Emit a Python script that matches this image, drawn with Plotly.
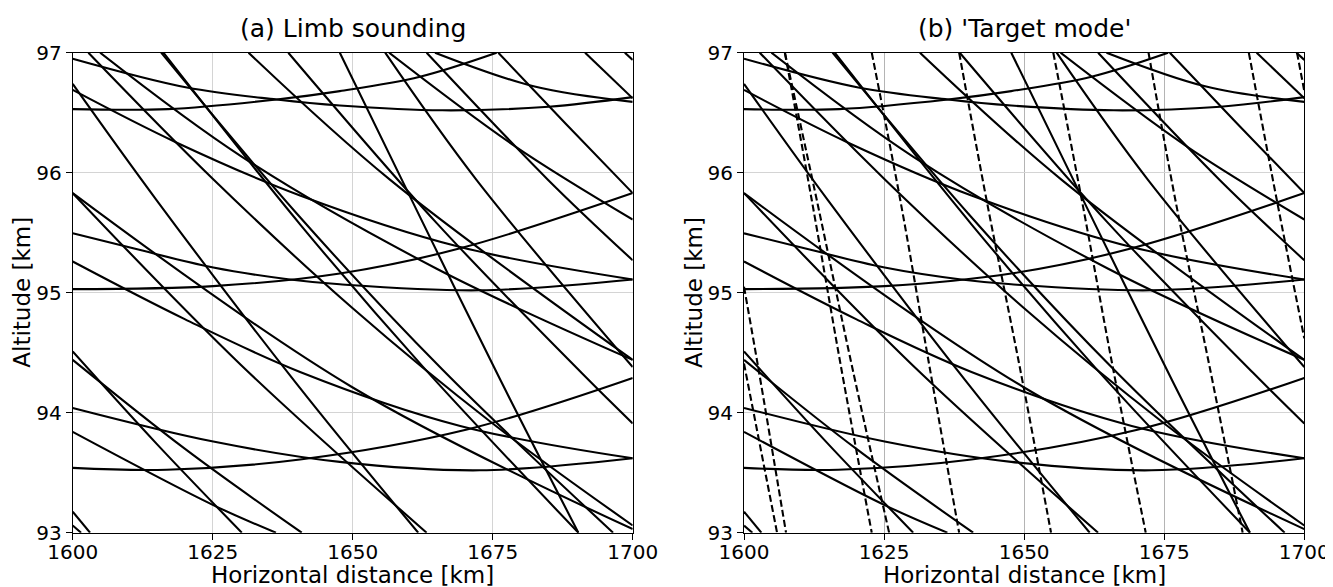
import plotly.graph_objects as go

# ---------------- data: (horizontal distance km, altitude km) ----------------
x_ticks = [1600, 1625, 1650, 1675, 1700]
y_ticks = [93, 94, 95, 96, 97]

# nearly horizontal lines of sight (tangent point inside / near the window)
curve_a1 = [(1600, 96.95), (1620.4, 96.71), (1636.4, 96.61), (1647.7, 96.56), (1666, 96.52), (1685, 96.55), (1700, 96.63)]
curve_b1 = [(1600, 96.53), (1617, 96.53), (1636.4, 96.61), (1647.7, 96.68), (1662, 96.80), (1675.7, 97.0)]
curve_d1 = [(1664.7, 97.0), (1682.3, 96.72), (1700, 96.59)]
curve_a2 = [(1600, 95.495), (1610.8, 95.37), (1625.1, 95.21), (1638.8, 95.11), (1647.7, 95.07), (1672.7, 95.02), (1700, 95.11)]
curve_b2 = [(1600, 95.03), (1625.1, 95.055), (1647.7, 95.16), (1669.2, 95.37), (1700, 95.83)]
curve_d2 = [(1600, 96.69), (1618.6, 96.25), (1640.6, 95.81), (1669.2, 95.38), (1700, 95.11)]
curve_a3 = [(1600, 94.04), (1625.1, 93.76), (1647.7, 93.59), (1672.7, 93.52), (1700, 93.62)]
curve_b3 = [(1600, 93.54), (1616.8, 93.525), (1640.6, 93.61), (1670.4, 93.86), (1700, 94.29)]
curve_d3 = [(1600, 95.26), (1620, 94.78), (1640.6, 94.34), (1669.2, 93.89), (1700, 93.62)]
curve_d4 = [(1600, 93.84), (1625.1, 93.23), (1636.3, 93.0)]

# steeper lines of sight
line_01 = [(1600, 93.175), (1603.1, 93.0)]
line_02 = [(1600, 93.06), (1601.5, 93.0)]
line_03 = [(1600, 94.51), (1615, 93.74), (1630.2, 93.0)]
line_04 = [(1600, 94.44), (1620, 93.70), (1640.9, 93.0)]
line_05 = [(1600, 96.74), (1615, 95.77), (1640, 94.24), (1661.7, 93.0)]
line_06 = [(1600, 95.83), (1630, 94.40), (1663.2, 93.0)]
line_07 = [(1600, 95.83), (1650, 94.21), (1700, 93.03)]
line_08 = [(1602.8, 97.0), (1625, 95.95), (1650, 94.87), (1675, 93.91), (1700, 93.06)]
line_09 = [(1604.9, 97.0), (1630.3, 96.13), (1665, 95.20), (1700, 94.44)]
line_10 = [(1616.2, 97.0), (1640.6, 95.57), (1662.6, 94.38), (1690.3, 93.0)]
line_11 = [(1615.8, 97.0), (1640, 95.66), (1666.1, 94.355), (1696.5, 93.0)]
line_12 = [(1631.4, 97.0), (1656.7, 95.94), (1700, 94.44)]
line_13 = [(1638.5, 97.0), (1665, 95.58), (1690.9, 94.33), (1700, 93.91)]
line_14 = [(1647.7, 97.0), (1661.4, 95.69), (1676.4, 94.27), (1690.3, 93.0)]
line_15 = [(1655.8, 97.0), (1672.1, 95.94), (1700, 94.38)]
line_16 = [(1656.5, 97.0), (1679, 96.22), (1700, 95.61)]
line_17 = [(1663.2, 97.0), (1684.9, 95.94), (1700, 95.27)]
line_18 = [(1676.0, 97.0), (1688, 96.41), (1700, 95.83)]
line_19 = [(1691.5, 97.0), (1700, 96.62)]
line_20 = [(1698.6, 97.0), (1700, 96.94)]

# 'target mode' lines (dashed, right panel only)
dash_01 = [(1607.3, 97.0), (1612.1, 95.77), (1617.4, 94.36), (1622.8, 93.0)]
dash_02 = [(1607.3, 97.0), (1613.0, 95.77), (1619.4, 94.36), (1625.9, 93.0)]
dash_03 = [(1622.8, 97.0), (1627.9, 95.77), (1633.2, 94.36), (1638.4, 93.0)]
dash_04 = [(1638.4, 97.0), (1643.3, 95.77), (1649.3, 94.36), (1654.8, 93.0)]
dash_05 = [(1655.2, 97.0), (1660.3, 95.77), (1665.9, 94.36), (1671.7, 93.0)]
dash_06 = [(1672.2, 97.0), (1677.0, 95.77), (1683.2, 94.36), (1689.0, 93.0)]
dash_07 = [(1690.1, 97.0), (1695.1, 95.77), (1700, 94.62)]
dash_08 = [(1698.7, 97.0), (1700, 96.68)]
dash_09 = [(1600, 95.05), (1602.6, 94.36), (1607.5, 93.0)]
dash_10 = [(1600, 94.41), (1605.9, 93.0)]

solid_lines = [curve_a1, curve_b1, curve_d1, curve_a2, curve_b2, curve_d2,
               curve_a3, curve_b3, curve_d3, curve_d4,
               line_01, line_02, line_03, line_04, line_05, line_06, line_07,
               line_08, line_09, line_10, line_11, line_12, line_13, line_14,
               line_15, line_16, line_17, line_18, line_19, line_20]
dashed_lines = [dash_01, dash_02, dash_03, dash_04, dash_05, dash_06, dash_07,
                dash_08, dash_09, dash_10]

# ---------------- figure ----------------
OFF = 8                      # the page body margin that shifts the plot inside the window
W, H = 1333 - OFF, 587 - OFF
FONT = "DejaVu Sans"
fig = go.Figure()

def add(pts, xa, ya, dash=None):
    fig.add_trace(go.Scatter(
        x=[p[0] for p in pts], y=[p[1] for p in pts], mode="lines",
        xaxis=xa, yaxis=ya, hoverinfo="skip",
        line=dict(color="black", width=2.1, shape="spline", smoothing=1.0,
                  dash=dash if dash else "solid")))

for pts in solid_lines:
    add(pts, "x", "y")
    add(pts, "x2", "y2")
for pts in dashed_lines:
    add(pts, "x2", "y2", dash="7px,3.3px")

# panel edges in window pixels
left = (72.7, 632.7)
right = (744.0, 1304.3)
top, bottom = 52.7, 532.7

def fx(px):
    return (px - OFF) / W

def fy(py):
    return 1 - (py - OFF) / H

ydom = [fy(bottom), fy(top)]

axis_common = dict(
    showgrid=True, gridwidth=1,
    showline=True, linecolor="black", linewidth=1, mirror=True,
    ticks="outside", ticklen=6, tickwidth=1, tickcolor="black",
    tickfont=dict(family=FONT, size=20, color="black"),
    zeroline=False, fixedrange=True, automargin=False,
)

fig.update_layout(
    width=W, height=H,
    margin=dict(l=0, r=0, t=0, b=0, pad=0, autoexpand=False),
    paper_bgcolor="white", plot_bgcolor="white",
    showlegend=False,
    font=dict(family=FONT, color="black"),
    xaxis=dict(domain=[fx(left[0]), fx(left[1])], range=[1600, 1700], tickvals=x_ticks,
               anchor="y", gridcolor="#d4d4d4", ticklabelstandoff=-5, **axis_common),
    yaxis=dict(domain=ydom, range=[93, 97], tickvals=y_ticks, anchor="x",
               gridcolor="#d4d4d4", **axis_common),
    xaxis2=dict(domain=[fx(right[0]), fx(right[1])], range=[1600, 1700], tickvals=x_ticks,
                anchor="y2", gridcolor="#b4b4b4", ticklabelstandoff=-5, **axis_common),
    yaxis2=dict(domain=ydom, range=[93, 97], tickvals=y_ticks, anchor="x2",
                gridcolor="#d4d4d4", **axis_common),
)

def ann(text, xpx, ypx, size, angle=0):
    fig.add_annotation(text=text, x=fx(xpx), y=fy(ypx), xref="paper", yref="paper",
                       showarrow=False, textangle=angle, xanchor="center", yanchor="middle",
                       font=dict(family=FONT, size=size, color="black"))

ann("(a) Limb sounding", (left[0] + left[1]) / 2, 28, 25)
ann("(b) 'Target mode'", (right[0] + right[1]) / 2, 28, 25)
ann("Horizontal distance [km]", (left[0] + left[1]) / 2, 575, 23)
ann("Horizontal distance [km]", (right[0] + right[1]) / 2, 575, 23)
ann("Altitude [km]", 22, (top + bottom) / 2, 23, -90)
ann("Altitude [km]", right[0] - 50.7, (top + bottom) / 2, 23, -90)

fig.write_html("out.html")
